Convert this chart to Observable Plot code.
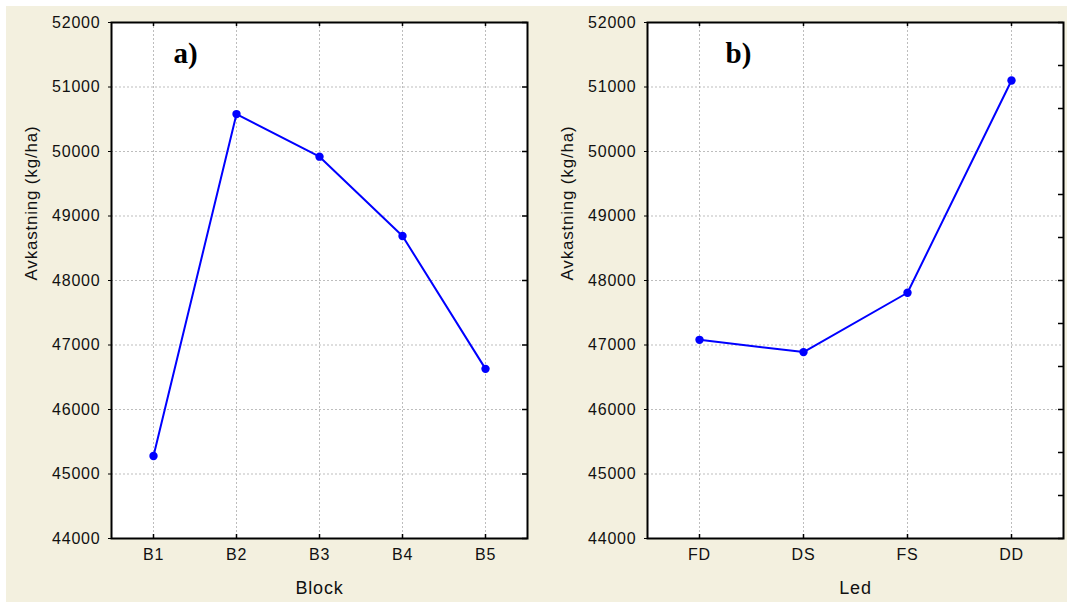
<!DOCTYPE html>
<html><head><meta charset="utf-8">
<script src="https://cdn.jsdelivr.net/npm/d3@7"></script>
<script src="https://cdn.jsdelivr.net/npm/@observablehq/plot@0.6"></script>
<style>
body{margin:0;background:#fff;width:1067px;height:602px;overflow:hidden;position:relative;font-family:"Liberation Sans",Arial,sans-serif}
#bg{position:absolute;left:6px;top:6px;right:0;bottom:0;background:#f3f0df}
#a{position:absolute;left:6px;top:6px}
#b{position:absolute;left:540px;top:6px}
svg text{letter-spacing:0.8px}
svg text.tag, svg .tag text{letter-spacing:0}
</style></head><body>
<div id="bg"></div><div id="a"></div><div id="b"></div>
<script>
const blocks = ["B1", "B2", "B3", "B4", "B5"];
const blockYield = [45280, 50580, 49920, 48690, 46630];
const leds = ["FD", "DS", "FS", "DD"];
const ledYield = [47080, 46890, 47810, 51100];
const yTicks = [44000, 45000, 46000, 47000, 48000, 49000, 50000, 51000, 52000];
const yLabel = "Avkastning (kg/ha)";
const xLabels = ["Block", "Led"];
const tags = ["a)", "b)"];

const H = 596, MT = 16, MB = 64;
const innerH = H - MT - MB;

function panel({cats, vals, xLabel, tag, width, marginLeft, marginRight, rightTicks, tagDx}) {
  const innerW = width - marginLeft - marginRight;
  const data = cats.map((c, i) => ({cat: c, v: vals[i]}));
  return Plot.plot({
    width, height: H, marginLeft, marginRight, marginTop: MT, marginBottom: MB,
    style: {fontFamily: '"Liberation Sans", Arial, sans-serif', fontSize: "16px", color: "#111", background: "transparent", overflow: "visible"},
    x: {type: "point", domain: cats, padding: 0.5},
    y: {domain: [44000, 52000]},
    marks: [
      Plot.frame({fill: "white", stroke: null}),
      Plot.gridY(yTicks, {stroke: "#bdbdbd", strokeOpacity: 1, strokeDasharray: "2,2"}),
      Plot.gridX(cats, {stroke: "#bdbdbd", strokeOpacity: 1, strokeDasharray: "2,2"}),
      Plot.axisY(yTicks, {tickSize: 3, tickPadding: 8, tickFormat: d3.format("d"), label: null, fontSize: 16, stroke: "black"}),
      Plot.axisX({tickSize: 0, tickPadding: 10, label: null, fontSize: 16}),
      Plot.tickX(cats, {x: d => d, insetBottom: innerH - 4, stroke: "black", strokeWidth: 1.5}),
      Plot.tickX(cats, {x: d => d, insetTop: innerH - 4, stroke: "black", strokeWidth: 1.5}),
      Plot.tickY(rightTicks, {y: d => d, insetLeft: innerW - 5, stroke: "black", strokeWidth: 1.5}),
      Plot.line(data, {x: "cat", y: "v", stroke: "#0000ff", strokeWidth: 2}),
      Plot.dot(data, {x: "cat", y: "v", fill: "#0000ff", r: 4.2, stroke: null}),
      Plot.frame({stroke: "black", strokeWidth: 2}),
      Plot.text([tag], {text: d => d, frameAnchor: "top-left", textAnchor: "start", lineAnchor: "middle", dx: tagDx, dy: 31,
        fontFamily: '"Liberation Serif", "Times New Roman", serif', fontWeight: "bold", fontSize: 29, fill: "black", className: "tag"}),
      Plot.text([xLabel], {text: d => d, frameAnchor: "bottom", lineAnchor: "middle", dy: 50, fontSize: 18, fill: "#111"}),
      Plot.text([yLabel], {text: d => d, frameAnchor: "left", lineAnchor: "middle", rotate: -90, dx: -80, fontSize: 17, fill: "#111"})
    ]
  });
}

const bTicks = d3.range(13).map(k => 44000 + k * 8000 / 12);

document.getElementById("a").append(panel({
  cats: blocks, vals: blockYield, xLabel: xLabels[0], tag: tags[0],
  width: 534, marginLeft: 105, marginRight: 13, rightTicks: yTicks, tagDx: 62
}));
document.getElementById("b").append(panel({
  cats: leds, vals: ledYield, xLabel: xLabels[1], tag: tags[1],
  width: 527, marginLeft: 107, marginRight: 4, rightTicks: bTicks, tagDx: 78
}));
</script>
</body></html>
